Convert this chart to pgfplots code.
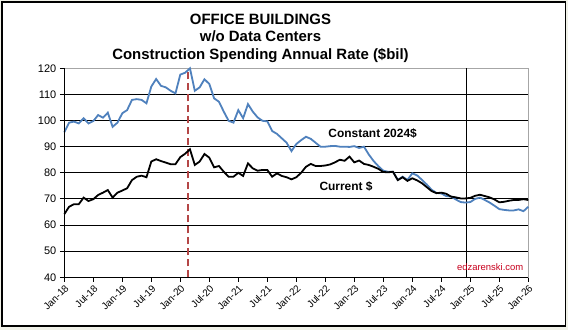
\documentclass[border=0pt]{standalone}
\usepackage{pgfplots}
\pgfplotsset{compat=1.18}
\usepackage{pgfplotstable}
\usepackage{fontspec}
\setmainfont{Liberation Sans}
\definecolor{cblue}{RGB}{79,129,189}
\definecolor{cred}{RGB}{180,70,70}
\definecolor{wmred}{RGB}{200,0,30}
\definecolor{bgc}{RGB}{240,241,232}
\pgfplotstableread{
m c k
0 95.5 64.2
1 99.2 67.0
2 99.6 68.0
3 98.9 68.0
4 100.9 70.5
5 98.9 69.2
6 99.8 69.9
7 102.1 71.5
8 101.1 72.4
9 103.0 73.4
10 97.6 70.5
11 99.2 72.4
12 102.8 73.2
13 104.0 74.1
14 107.9 77.2
15 108.2 78.5
16 107.9 78.9
17 106.6 78.3
18 113.0 84.3
19 115.9 85.2
20 113.3 84.5
21 112.7 83.9
22 111.4 83.3
23 110.4 83.3
24 117.6 86.0
25 118.3 87.3
26 120.0 89.0
27 111.4 83.0
28 112.7 84.3
29 115.8 87.2
30 114.0 85.8
31 108.5 82.1
32 107.2 82.6
33 103.4 80.4
34 99.9 78.5
35 99.2 78.5
36 104.0 80.0
37 100.9 78.8
38 106.3 83.6
39 103.4 81.7
40 101.2 80.8
41 99.9 81.1
42 99.7 81.1
43 96.0 78.5
44 94.9 79.8
45 93.2 78.8
46 91.5 78.3
47 88.3 77.5
48 91.0 78.3
49 92.5 80.0
50 93.8 82.3
51 93.0 83.4
52 91.5 82.6
53 90.0 82.6
54 90.0 82.8
55 90.2 83.2
56 90.3 84.0
57 90.0 85.0
58 90.0 84.6
59 89.9 86.2
60 90.2 84.0
61 89.5 84.7
62 90.0 83.4
63 87.0 83.0
64 84.5 82.3
65 82.5 81.5
66 80.8 80.3
67 80.4 80.2
68 80.4 80.4
69 77.3 77.2
70 78.5 78.3
71 77.3 76.9
72 79.8 77.9
73 79.0 77.1
74 77.3 76.0
75 75.5 74.5
76 73.5 73.0
77 72.3 72.2
78 72.1 72.4
79 71.1 72.0
80 70.9 70.9
81 69.8 70.6
82 68.8 70.2
83 68.6 70.2
84 68.8 70.4
85 70.0 71.2
86 70.5 71.6
87 69.6 71.1
88 68.6 70.6
89 67.4 69.8
90 66.1 68.7
91 65.8 68.9
92 65.6 69.3
93 65.6 69.6
94 66.0 69.6
95 65.3 69.9
96 67.0 69.6
}\datatable
\begin{document}
\begin{tikzpicture}
\useasboundingbox (0bp,0bp) rectangle (568bp,330bp);
\fill[bgc] (0bp,0bp) rectangle (568bp,330bp);
\draw[fill=white,line width=1.2bp] (2bp,4bp) rectangle (565.5bp,328bp);
\node[font=\fontsize{15}{17}\selectfont\bfseries,anchor=base] at (260.5bp,305bp) {OFFICE BUILDINGS};
\node[font=\fontsize{15}{17}\selectfont\bfseries,anchor=base] at (260.5bp,288.7bp) {w/o Data Centers};
\node[font=\fontsize{15}{17}\selectfont\bfseries,anchor=base] at (260.5bp,270.7bp) {Construction Spending Annual Rate (\$bil)};
\begin{axis}[
  at={(64.3bp,52.7bp)}, anchor=south west,
  scale only axis, width=464bp, height=209bp,
  xmin=0, xmax=96, ymin=40, ymax=120,
  ytick={40,50,...,120},
  xtick={0,6,...,96},
  xticklabels={Jan-18,Jul-18,Jan-19,Jul-19,Jan-20,Jul-20,Jan-21,Jul-21,Jan-22,Jul-22,Jan-23,Jul-23,Jan-24,Jul-24,Jan-25,Jul-25,Jan-26},
  x tick label style={rotate=45,anchor=north east,font=\fontsize{10}{12}\selectfont,inner sep=1.5bp},
  y tick label style={font=\fontsize{11}{12}\selectfont},
  /pgf/number format/assume math mode=true,
  tick align=outside, xtick pos=bottom, ytick pos=left,
  major tick length=4.5bp,
  tick style={black,line width=0.9bp},
  ymajorgrids, grid style={black,line width=0.9bp},
  axis line style={gray!70,line width=0.9bp},
  clip=false,
]
\draw[black,line width=1bp] (axis cs:83.3,40) -- (axis cs:83.3,120);
\draw[cred,line width=1.8bp,dash pattern=on 7bp off 4bp] (axis cs:25.6,40) -- (axis cs:25.6,120);
\addplot[cblue,line width=1.8bp,no marks] table[x=m,y=c]{\datatable};
\addplot[black,line width=1.8bp,no marks] table[x=m,y=k]{\datatable};
\draw[black,line width=1bp] (rel axis cs:0,1) -- (rel axis cs:0,0) -- (rel axis cs:1,0);
\node[font=\fontsize{12}{14}\selectfont\bfseries] at (axis cs:63.8,95.1) {Constant 2024\$};
\node[font=\fontsize{12}{14}\selectfont\bfseries] at (axis cs:58.3,74.7) {Current \$};
\node[font=\fontsize{9.5}{11}\selectfont,text=wmred,anchor=east] at (axis cs:95.7,43.8) {edzarenski.com};
\end{axis}
\end{tikzpicture}
\end{document}
